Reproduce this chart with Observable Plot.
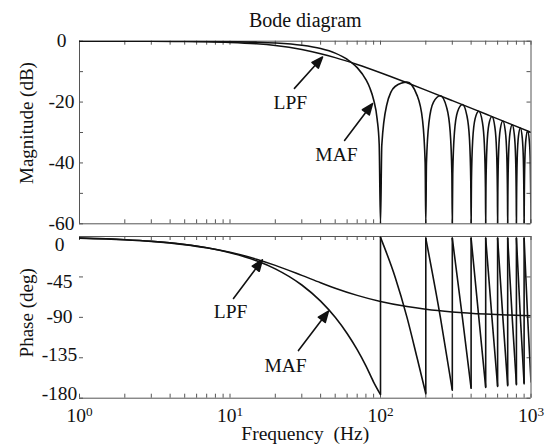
<!DOCTYPE html>
<html>
<head>
<meta charset="utf-8">
<script src="https://cdn.jsdelivr.net/npm/d3@7"></script>
<script src="https://cdn.jsdelivr.net/npm/@observablehq/plot@0.6"></script>
<style>
  body { margin: 0; background: #fff; }
  #chart { position: relative; width: 547px; height: 445px; background: #fff; }
</style>
</head>
<body>
<div id="chart"></div>
<script>
// ---------------- data ----------------
const xMajorTicks = [1, 10, 100, 1000];
const xMajorExponents = ["0", "1", "2", "3"];
const xMinorTicks = [2, 3, 4, 5, 6, 7, 8, 9, 20, 30, 40, 50, 60, 70, 80, 90,
                     200, 300, 400, 500, 600, 700, 800, 900];
const magTicks = [0, -10, -20, -30, -40, -50, -60];
const magTickLabels = [0, -20, -40, -60];
const phaseTicks = [0, -45, -90, -135, -180];

// LPF (first-order low-pass)
const lpfFreq     = [1, 2, 3, 5, 7, 10, 15, 20, 30, 40, 50, 70, 100, 150, 200, 300, 500, 700, 1000];
const lpfMagDb    = [-0.004, -0.017, -0.038, -0.106, -0.205, -0.409, -0.871, -1.445, -2.76, -4.115,
                     -5.40, -7.66, -10.36, -13.66, -16.07, -19.53, -23.94, -26.85, -29.95];
const lpfPhaseDeg = [-1.8, -3.6, -5.38, -8.93, -12.4, -17.44, -25.23, -32.14, -43.3, -51.5,
                     -57.52, -65.55, -72.35, -78.02, -80.96, -83.94, -86.36, -87.4, -88.18];

// MAF (moving average filter) magnitude
const mafMagFreq = [1, 2, 3, 5, 7, 10, 15, 20, 30, 40, 50, 60, 70, 80, 85, 90, 95, 98, 100,
  102, 110, 125, 150, 175, 190, 198, 200,
  202, 210, 225, 250, 275, 290, 298, 300,
  302, 310, 325, 350, 375, 390, 398, 400,
  402, 410, 425, 450, 475, 490, 498, 500,
  502, 510, 525, 550, 575, 590, 598, 600,
  602, 610, 625, 650, 675, 690, 698, 700,
  702, 710, 725, 750, 775, 790, 798, 800,
  802, 810, 825, 850, 875, 890, 898, 900,
  902, 910, 925, 950, 975, 990, 998, 1000];
const mafMagDb = [-0.001, -0.006, -0.013, -0.036, -0.07, -0.14, -0.32, -0.58, -1.33, -2.42, -3.92,
  -5.94, -8.69, -12.62, -15.39, -19.23, -25.6, -33.8, -60,
  -34.15, -20.97, -14.89, -13.46, -17.81, -25.72, -39.92, -60,
  -40.09, -26.59, -20.0, -17.9, -21.74, -29.39, -43.47, -60,
  -43.58, -29.97, -23.19, -20.82, -24.43, -31.97, -45.98, -60,
  -46.07, -32.4, -25.52, -23.01, -26.49, -33.95, -47.93, -60,
  -48.0, -34.3, -27.36, -24.75, -28.15, -35.56, -49.52, -60,
  -49.57, -35.85, -28.87, -26.2, -29.54, -36.92, -50.86, -60,
  -50.91, -37.17, -30.16, -27.44, -30.74, -38.1, -52.02, -60,
  -52.07, -38.31, -31.28, -28.53, -31.79, -39.13, -53.05, -60,
  -53.09, -39.32, -32.28, -29.5, -32.73, -40.06, -53.97, -60];

// MAF phase (a repeated frequency marks a jump)
const mafPhaseFreq = [1, 2, 3, 5, 7, 10, 15, 20, 30, 40, 50, 60, 70, 80, 90, 100,
  100, 125, 150, 175, 200,
  200, 250, 300,
  300, 350, 400,
  400, 450, 500,
  500, 550, 600,
  600, 650, 700,
  700, 750, 800,
  800, 850, 900,
  900, 950, 1000];
const mafPhaseDeg = [-1.8, -3.6, -5.4, -9, -12.6, -18, -27, -36, -54, -72, -90, -108, -126, -144, -162, -176,
  -1, -45, -90, -135, -175,
  -2, -90, -171,
  -2, -90, -169,
  -2, -90, -168,
  -2, -90, -167,
  -2, -90, -166,
  -2, -90, -165,
  -2, -90, -164,
  -2, -90, -162];

// annotations
const magNoteText = ["LPF", "MAF"];
const magNoteFreq = [25.2, 51.0];
const magNoteDb = [-20.3, -37.2];
const magArrowFromFreq = [26.8, 57.7];
const magArrowFromDb = [-15.5, -32.6];
const magArrowToFreq = [41.2, 88.5];
const magArrowToDb = [-5.2, -20.5];

const phNoteText = ["LPF", "MAF"];
const phNoteFreq = [10.1, 23.4];
const phNoteDeg = [-83.5, -143.6];
const phArrowFromFreq = [10.55, 28.5];
const phArrowFromDeg = [-69, -127];
const phArrowToFreq = [16.4, 45.1];
const phArrowToDeg = [-26, -83];

// ---------------- layout ----------------
const W = 547, H = 445, ML = 79, MR = 16.5;
const magT = 40.7, magB = 223.3, phT = 236, phB = 397.7;
const FW = W - ML - MR, magFH = magB - magT, phFH = phB - phT;
const TICK = 4;
const phaseLabelShift = [8, 4.5, -0.5, -3.5, -4.5]; // label placement as in the original figure
const frameColor = "#555";
const ink = "#111";
const font = "'Liberation Serif', 'Times New Roman', serif";
const svgStyle = `position:absolute;left:0;top:0;background:transparent;overflow:visible;font-family:${font};font-size:19.5px;color:${ink};`;

const xScale = Plot.scale({x: {type: "log", domain: [1, 1000], range: [ML, W - MR]}});
const yMagScale = Plot.scale({y: {domain: [-60, 0], range: [magB, magT]}});
const yPhScale = Plot.scale({y: {domain: [-180, 0], range: [phB, phT]}});

const arrowShape = {
  draw(context, l) {
    const hl = 11, hw = 4.3;
    context.moveTo(0, 0);
    context.lineTo(0, -l + hl);
    context.moveTo(0, -l);
    context.lineTo(-hw, -l + hl);
    context.lineTo(hw, -l + hl);
    context.closePath();
  }
};

function arrows(fromF, fromV, toF, toV, yS) {
  return toF.map((f, i) => {
    const x1 = xScale.apply(fromF[i]), y1 = yS.apply(fromV[i]);
    const x2 = xScale.apply(f), y2 = yS.apply(toV[i]);
    const len = Math.hypot(x2 - x1, y2 - y1);
    const rot = Math.atan2(x2 - x1, -(y2 - y1)) * 180 / Math.PI;
    return Plot.vector([{f, v: toV[i]}], {
      x: "f", y: "v", length: len, rotate: rot, anchor: "end",
      shape: arrowShape, stroke: ink, fill: ink, strokeWidth: 1.6
    });
  });
}

function xTickMarks(fh) {
  const all = xMajorTicks.concat(xMinorTicks);
  return [
    Plot.tickX(all, {insetBottom: fh - TICK, stroke: frameColor}),
    Plot.tickX(all, {insetTop: fh - TICK, stroke: frameColor})
  ];
}

// ---------------- magnitude panel ----------------
const lpfMagRows = lpfFreq.map((f, i) => ({f, v: lpfMagDb[i]}));
const mafMagRows = mafMagFreq.map((f, i) => ({f, v: mafMagDb[i]}));

const magPlot = Plot.plot({
  width: W, height: H,
  marginLeft: ML, marginRight: MR, marginTop: magT, marginBottom: H - magB,
  x: {type: "log", domain: [1, 1000], axis: null},
  y: {domain: [-60, 0], axis: null},
  style: svgStyle,
  marks: [
    Plot.ruleY([0, -60], {stroke: frameColor}),
    Plot.ruleX([1, 1000], {stroke: frameColor}),
    ...xTickMarks(magFH),
    Plot.tickY(magTicks, {insetRight: FW - TICK, stroke: frameColor}),
    Plot.tickY(magTicks, {insetLeft: FW - TICK, stroke: frameColor}),
    Plot.line(lpfMagRows, {x: "f", y: "v", curve: "monotone-x", stroke: ink, strokeWidth: 1.5, clip: true}),
    Plot.line(mafMagRows, {x: "f", y: "v", curve: "monotone-x", stroke: ink, strokeWidth: 1.6, clip: true}),
    Plot.text(magTickLabels, {y: d => d, frameAnchor: "left", dx: -18, text: d => String(d), textAnchor: "middle", lineAnchor: "middle", fill: ink}),
    Plot.text(["Magnitude (dB)"], {frameAnchor: "left", rotate: -90, dx: -52.5, dy: -9.5, textAnchor: "middle", lineAnchor: "middle", fill: ink, fontSize: 19}),
    Plot.text(["Bode diagram"], {frameAnchor: "top", dy: -20.7, textAnchor: "middle", lineAnchor: "middle", fill: ink, fontSize: 20}),
    ...arrows(magArrowFromFreq, magArrowFromDb, magArrowToFreq, magArrowToDb, yMagScale),
    Plot.text(magNoteText, {x: (d, i) => magNoteFreq[i], y: (d, i) => magNoteDb[i], text: d => d, fill: ink})
  ]
});

// ---------------- phase panel ----------------
const lpfPhRows = lpfFreq.map((f, i) => ({f, v: lpfPhaseDeg[i]}));
let seg = 0;
const mafPhRows = mafPhaseFreq.map((f, i) => {
  if (i > 0 && f === mafPhaseFreq[i - 1]) seg++;
  return {f, v: mafPhaseDeg[i], seg};
});
const jumps = [];
mafPhaseFreq.forEach((f, i) => {
  if (i > 0 && f === mafPhaseFreq[i - 1]) jumps.push({f, v1: mafPhaseDeg[i - 1], v2: mafPhaseDeg[i]});
});

const phaseLabelMarks = phaseTicks.map((t, i) =>
  Plot.text([t], {y: d => d, frameAnchor: "left", dx: -20, dy: phaseLabelShift[i], text: d => String(d),
                  textAnchor: "middle", lineAnchor: "middle", fill: ink}));

const phPlot = Plot.plot({
  width: W, height: H,
  marginLeft: ML, marginRight: MR, marginTop: phT, marginBottom: H - phB,
  x: {type: "log", domain: [1, 1000], axis: null},
  y: {domain: [-180, 0], axis: null},
  style: svgStyle,
  marks: [
    Plot.ruleY([0, -180], {stroke: frameColor}),
    Plot.ruleX([1000], {stroke: frameColor}),
    ...xTickMarks(phFH),
    Plot.tickY(phaseTicks, {insetRight: FW - TICK, stroke: frameColor}),
    Plot.tickY(phaseTicks, {insetLeft: FW - TICK, stroke: frameColor}),
    Plot.line(lpfPhRows, {x: "f", y: "v", curve: "monotone-x", stroke: ink, strokeWidth: 1.5, clip: true}),
    Plot.line(mafPhRows, {x: "f", y: "v", z: "seg", curve: "monotone-x", stroke: ink, strokeWidth: 1.6, clip: true}),
    Plot.ruleX(jumps, {x: "f", y1: "v1", y2: "v2", stroke: ink, strokeWidth: 1.6}),
    ...phaseLabelMarks,
    Plot.text(xMajorTicks, {x: d => d, frameAnchor: "bottom", dy: 17.8, lineAnchor: "middle", text: (d, i) => "10^" + xMajorExponents[i], fill: ink}),
    Plot.text(["Frequency\u00a0 (Hz)"], {frameAnchor: "bottom", dy: 35.5, textAnchor: "middle", lineAnchor: "middle", fill: ink}),
    Plot.text(["Phase (deg)"], {frameAnchor: "left", rotate: -90, dx: -52.5, dy: -4.5, textAnchor: "middle", lineAnchor: "middle", fill: ink, fontSize: 19}),
    ...arrows(phArrowFromFreq, phArrowFromDeg, phArrowToFreq, phArrowToDeg, yPhScale),
    Plot.text(phNoteText, {x: (d, i) => phNoteFreq[i], y: (d, i) => phNoteDeg[i], text: d => d, fill: ink})
  ]
});

// superscript exponents on the frequency tick labels
const svgNS = "http://www.w3.org/2000/svg";
phPlot.querySelectorAll("text").forEach(t => {
  const m = t.textContent.match(/^10\^(\d)$/);
  if (m) {
    t.textContent = "10";
    const ts = document.createElementNS(svgNS, "tspan");
    ts.setAttribute("dy", "-0.45em");
    ts.setAttribute("font-size", "0.68em");
    ts.textContent = m[1];
    t.appendChild(ts);
  }
});

const chart = document.getElementById("chart");
chart.appendChild(magPlot);
chart.appendChild(phPlot);
</script>
</body>
</html>
